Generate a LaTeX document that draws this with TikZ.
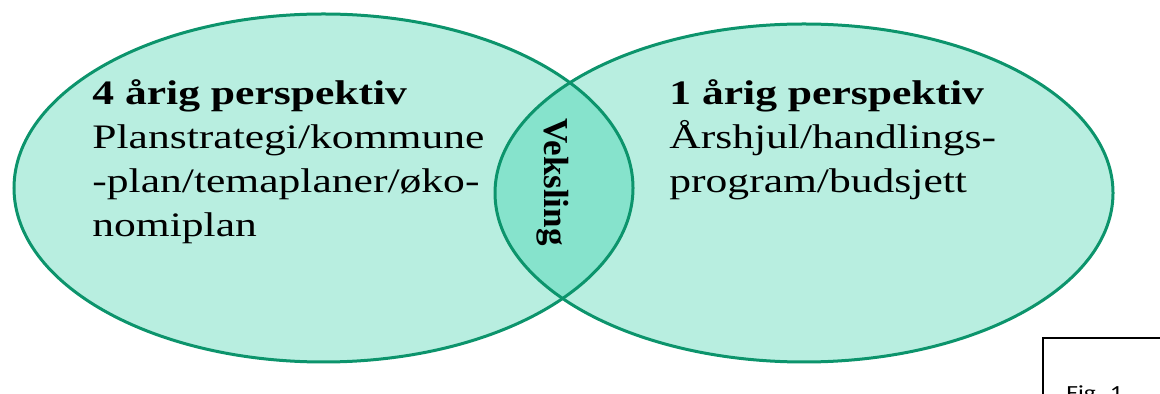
\documentclass[tikz,border=0pt]{standalone}
\usepackage{graphicx}
\usepackage{fontspec}
\setmainfont{Liberation Serif}
\newfontfamily\figfont{Carlito}
\definecolor{lightfill}{RGB}{184,238,224}
\definecolor{lensfill}{RGB}{134,227,204}
\definecolor{edgegreen}{RGB}{12,148,108}
\begin{document}
\begin{tikzpicture}[x=0.5pt,y=-0.5pt,
  ell/.style={draw=edgegreen,line width=1.5pt},
  txt/.style={inner sep=0pt,anchor=base west,font=\fontsize{17.15}{21.85}\selectfont},
  vtxt/.style={inner sep=0pt,rotate=-90,font=\bfseries\fontsize{17.5}{21}\selectfont}]
\useasboundingbox (0,0) rectangle (1160,394);
\clip (0,0) rectangle (1160,394);
% ellipses
\fill[lightfill] (323.5,188) ellipse [x radius=309.5, y radius=174];
\fill[lightfill] (804,193) ellipse [x radius=309, y radius=169];
\begin{scope}
  \clip (323.5,188) ellipse [x radius=309.5, y radius=174];
  \fill[lensfill] (804,193) ellipse [x radius=309, y radius=169];
\end{scope}
\draw[ell] (323.5,188) ellipse [x radius=309.5, y radius=174];
\draw[ell] (804,193) ellipse [x radius=309, y radius=169];
% texts
\node[txt] (lefttext) at (92,105) {\scalebox{1.27}[1]{\vtop{%
  \hbox{\bfseries 4 årig perspektiv}%
  \hbox{Planstrategi/kommune}%
  \hbox{-plan/temaplaner/øko-}%
  \hbox{nomiplan}}}};
\node[txt] (righttext) at (669,105) {\scalebox{1.27}[1]{\vtop{%
  \hbox{\bfseries 1 årig perspektiv}%
  \hbox{Årshjul/handlings-}%
  \hbox{program/budsjett}}}};
\node[vtxt] (veksling) at (553,182) {Veksling};
% figure box (cut off)
\draw[line width=1pt] (1043,338) rectangle (1200,440);
\node[inner sep=0pt,anchor=base west,font=\figfont\fontsize{10}{12}\selectfont] (figlabel) at (1066,400) {\scalebox{1.27}[1]{Fig. 1}};
\end{tikzpicture}
\end{document}
